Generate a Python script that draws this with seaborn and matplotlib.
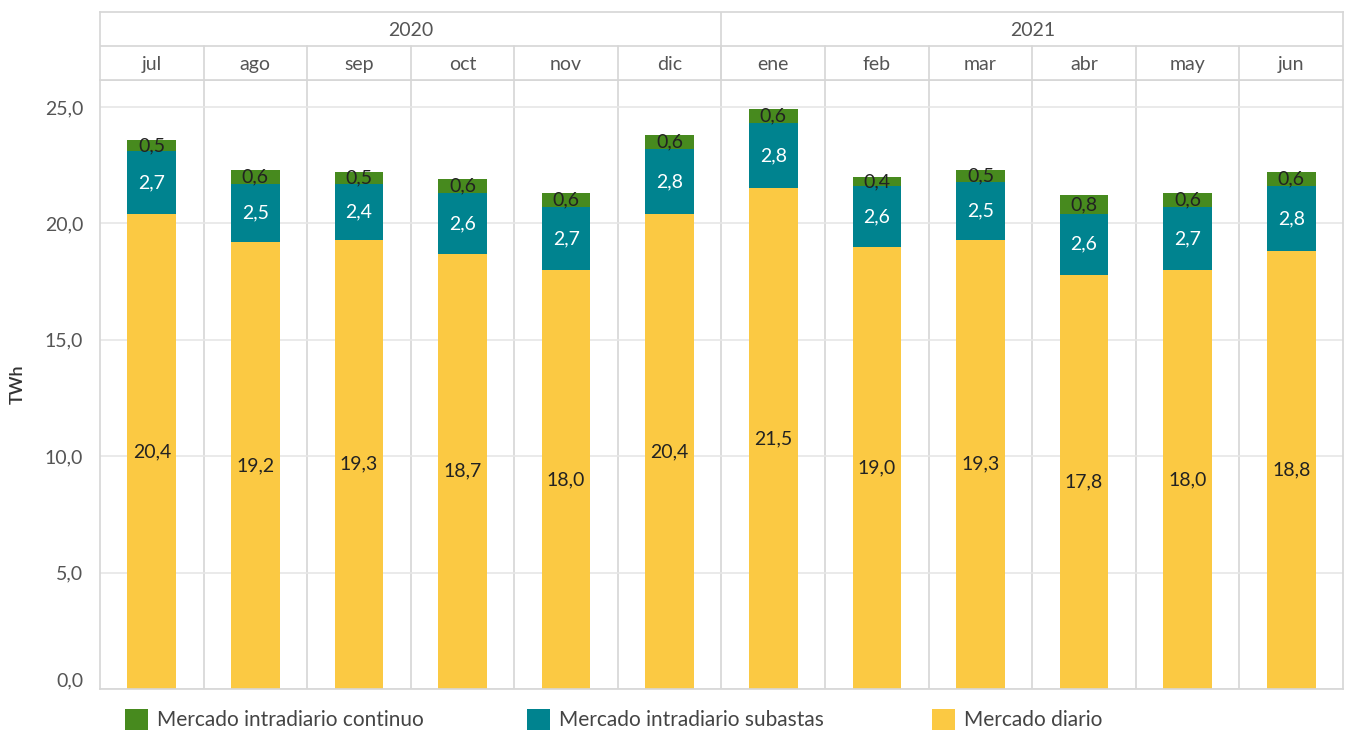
import numpy as np
import pandas as pd
import matplotlib
matplotlib.use("Agg")
import matplotlib.pyplot as plt
import seaborn as sns
from matplotlib.patches import Patch

# data (TWh)
months = ["jul", "ago", "sep", "oct", "nov", "dic",
          "ene", "feb", "mar", "abr", "may", "jun"]
years = ["2020", "2021"]
months_per_year = [6, 6]
diario = [20.4, 19.2, 19.3, 18.7, 18.0, 20.4, 21.5, 19.0, 19.3, 17.8, 18.0, 18.8]
subastas = [2.7, 2.5, 2.4, 2.6, 2.7, 2.8, 2.8, 2.6, 2.5, 2.6, 2.7, 2.8]
continuo = [0.5, 0.6, 0.5, 0.6, 0.6, 0.6, 0.6, 0.4, 0.5, 0.8, 0.6, 0.6]
series_names = ["Mercado intradiario continuo", "Mercado intradiario subastas", "Mercado diario"]

c_cont = "#478a1e"
c_sub = "#00838f"
c_dia = "#fbc943"
grid_c = "#d6d6d6"
text_c = "#555555"

sns.set_style("white")
plt.rcParams["font.family"] = ["Lato", "DejaVu Sans"]

df = pd.DataFrame({"mes": months, "diario": diario, "subastas": subastas, "continuo": continuo})
df["sub_top"] = df["diario"] + df["subastas"]
df["total"] = df["sub_top"] + df["continuo"]

fig = plt.figure(figsize=(13.51, 7.33), dpi=100)
ax = fig.add_axes([100 / 1351, 44 / 733, 1243 / 1351, 609 / 733])
hdr = fig.add_axes([100 / 1351, 653 / 733, 1243 / 1351, 68 / 733])

bw = 0.47
# stacked bars: draw cumulative totals, tallest first
for col, c in [("total", c_cont), ("sub_top", c_sub), ("diario", c_dia)]:
    sns.barplot(data=df, x="mes", y=col, color=c, width=bw, saturation=1, ax=ax,
                order=months, linewidth=0, edgecolor="none")

def fmt(v):
    return f"{v:.1f}".replace(".", ",")

for i in range(len(months)):
    ax.text(i, diario[i] / 2, fmt(diario[i]), ha="center", va="center", fontsize=14, color="#222222")
    ax.text(i, diario[i] + subastas[i] / 2, fmt(subastas[i]), ha="center", va="center",
            fontsize=14, color="white")
    ax.text(i, diario[i] + subastas[i] + continuo[i] / 2, fmt(continuo[i]), ha="center", va="center",
            fontsize=14, color="#222222")

ax.set_xlim(-0.5, len(months) - 0.5)
ax.set_ylim(0, 26.16)
yt = np.arange(0, 26, 5)
ax.set_yticks(yt)
ax.set_yticklabels([fmt(t) for t in yt], fontsize=14, color=text_c)
ax.get_yticklabels()[0].set_va("bottom")
ax.set_xticks([])
ax.set_xlabel("")
ax.set_ylabel("TWh", fontsize=13, color="#333333", fontweight="semibold", labelpad=14)
ax.yaxis.grid(True, color="#e6e6e6", lw=1.2)
ax.set_axisbelow(True)
ax.tick_params(axis="y", length=7, color="#e6e6e6", pad=5)
for i in range(len(months) - 1):
    ax.axvline(i + 0.5, color=grid_c, lw=1.2, zorder=0)
for s in ax.spines.values():
    s.set_color(grid_c)
    s.set_linewidth(1.2)

# header with years and months
hdr.set_xlim(-0.5, len(months) - 0.5)
hdr.set_ylim(0, 2)
hdr.set_xticks([])
hdr.set_yticks([])
for s in hdr.spines.values():
    s.set_color(grid_c)
    s.set_linewidth(1.2)
hdr.axhline(1, color=grid_c, lw=1.2)
for i, m in enumerate(months):
    hdr.text(i, 0.45, m, ha="center", va="center", fontsize=14, color=text_c)
    if i < len(months) - 1:
        hdr.plot([i + 0.5, i + 0.5], [0, 1], color=grid_c, lw=1.2)
start = 0
for y, n in zip(years, months_per_year):
    hdr.text(start + (n - 1) / 2, 1.45, y, ha="center", va="center", fontsize=14, color=text_c)
    if start + n < len(months):
        hdr.plot([start + n - 0.5] * 2, [0, 2], color=grid_c, lw=1.2)
    start += n

# legend
for name, col, xpos in zip(series_names, [c_cont, c_sub, c_dia], [106, 508, 913]):
    fig.legend(handles=[Patch(facecolor=col, edgecolor="none")], labels=[name],
               loc="lower left", bbox_to_anchor=(xpos / 1351, -0.022), frameon=False,
               fontsize=15, handlelength=1.1, handleheight=1.2, handletextpad=0.45,
               labelcolor="#444444")

fig.savefig("out.png", dpi=100)
